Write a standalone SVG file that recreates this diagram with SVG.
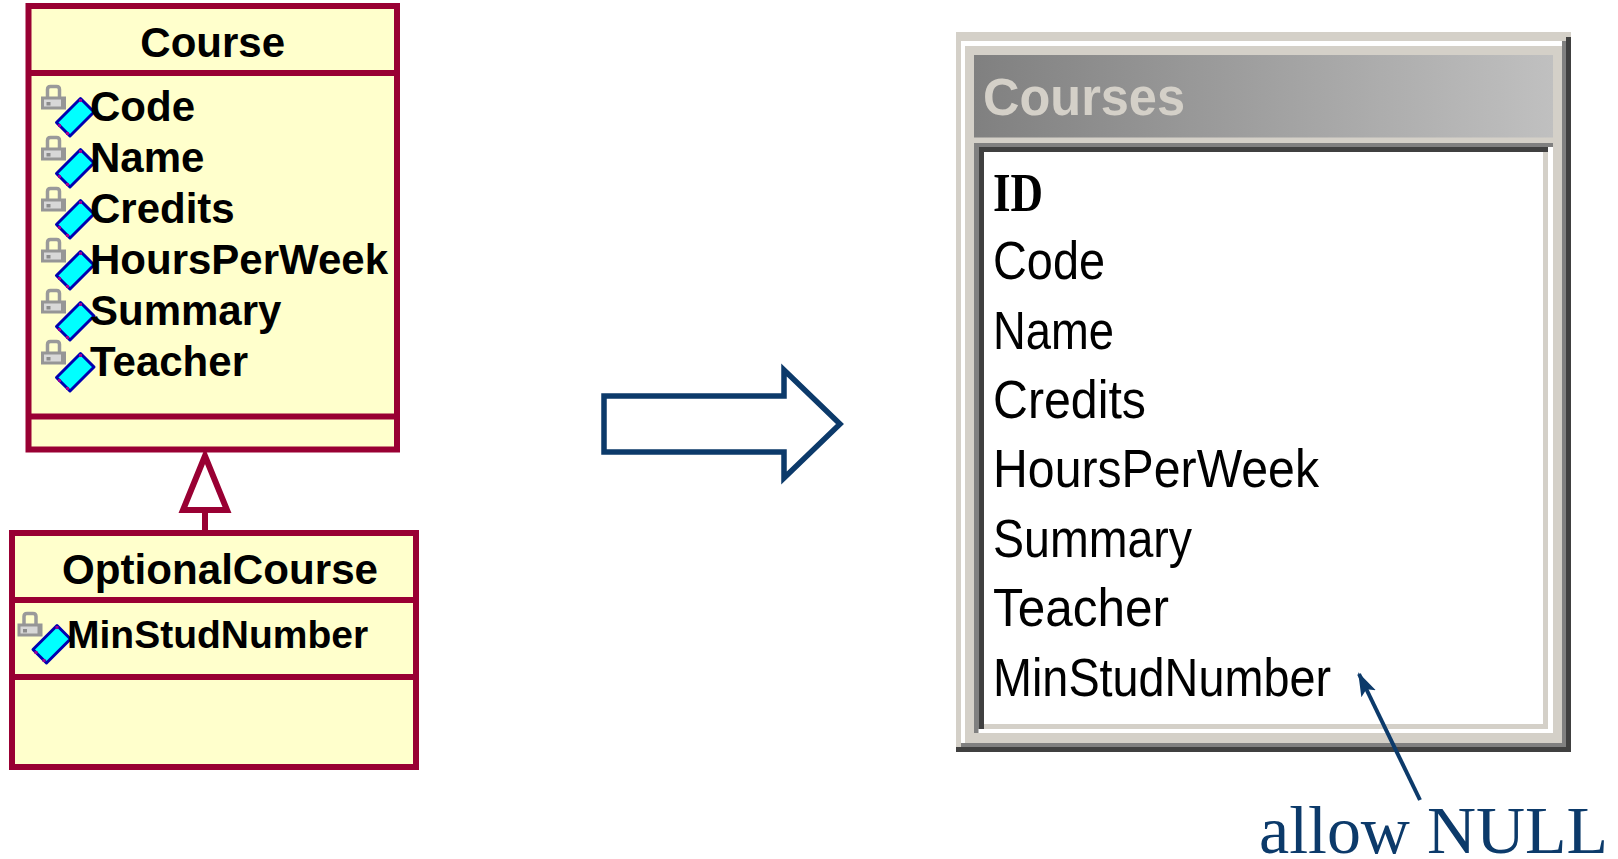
<svg xmlns="http://www.w3.org/2000/svg" width="1618" height="859" viewBox="0 0 1618 859">
<style>
.cls{fill:#FFFFCC;stroke:#990033;stroke-width:6}
.sep{stroke:#990033;stroke-width:6}
.ttl{font-family:"Liberation Sans",Arial,sans-serif;font-weight:bold;font-size:42px;fill:#000}
.att{font-family:"Liberation Sans",Arial,sans-serif;font-weight:bold;font-size:42px;fill:#000}
.col{font-family:"Liberation Sans",Arial,sans-serif;font-size:53px;fill:#000}
.lg{fill:#D4D0C8}.wh{fill:#FFFFFF}.mg{fill:#808080}.dg{fill:#404040}
</style>
<defs>
<linearGradient id="tbar" x1="0" y1="0" x2="1" y2="0">
<stop offset="0" stop-color="#808080"/>
<stop offset="1" stop-color="#C0C0C0"/>
</linearGradient>
<g id="icon">
<path d="M9.5,13 V5.5 Q9.5,2.5 12.5,2.5 H18.5 Q21.5,2.5 21.5,5.5 V13" fill="none" stroke="#9A9A9A" stroke-width="3.5"/>
<rect x="3" y="12.5" width="25" height="13" fill="#969696"/>
<rect x="6" y="15.5" width="17" height="7" fill="#D8D8D8"/>
<rect x="8.5" y="18" width="4" height="3.5" fill="#8C8C8C"/>
<polygon points="18.5,38.5 42.5,14.5 56,28 32,52" fill="#00FFFF" stroke="#0000B0" stroke-width="3" stroke-linejoin="round"/>
<rect x="20" y="40" width="3" height="3" fill="#990099"/>
<rect x="28" y="48" width="3" height="3" fill="#990099"/>
<rect x="41" y="15" width="3" height="3" fill="#990099"/>
</g>
<marker id="ah" viewBox="0 0 24 18" refX="22" refY="9" markerWidth="24" markerHeight="18" markerUnits="userSpaceOnUse" orient="auto">
<path d="M0,1 L24,9 L0,17 L5,9 Z" fill="#0C3A6A"/>
</marker>
</defs>

<g id="node-course">
<rect class="cls" x="28.5" y="6" width="368.5" height="443.5"/>
<line class="sep" x1="28.5" y1="73" x2="397" y2="73"/>
<line class="sep" x1="28.5" y1="416.5" x2="397" y2="416.5"/>
<text class="ttl" x="212.7" y="57" text-anchor="middle">Course</text>
<use href="#icon" x="38" y="84"/>
<text class="att" x="90" y="121">Code</text>
<use href="#icon" x="38" y="135"/>
<text class="att" x="90" y="172">Name</text>
<use href="#icon" x="38" y="186"/>
<text class="att" x="90" y="223">Credits</text>
<use href="#icon" x="38" y="237"/>
<text class="att" x="90" y="274">HoursPerWeek</text>
<use href="#icon" x="38" y="288"/>
<text class="att" x="90" y="325">Summary</text>
<use href="#icon" x="38" y="339"/>
<text class="att" x="90" y="376">Teacher</text>
</g>

<g id="node-optionalcourse">
<rect class="cls" x="12" y="533" width="404" height="234"/>
<line class="sep" x1="12" y1="600" x2="416" y2="600"/>
<line class="sep" x1="12" y1="677" x2="416" y2="677"/>
<text class="ttl" x="62" y="583.5" textLength="316" lengthAdjust="spacingAndGlyphs">OptionalCourse</text>
<use href="#icon" x="14.5" y="611"/>
<text class="att" x="67" y="648" style="font-size:39px">MinStudNumber</text>
</g>

<g id="node-courses-table">
<rect class="lg" x="956" y="32" width="615" height="720"/>
<rect class="wh" x="961" y="41" width="601" height="5"/>
<rect class="wh" x="961" y="41" width="4" height="706"/>
<rect class="mg" x="1562" y="41" width="4" height="706"/>
<rect class="mg" x="961" y="743" width="605" height="4"/>
<rect class="dg" x="1566" y="37" width="5" height="715"/>
<rect class="dg" x="956" y="747" width="615" height="5"/>
<rect x="974" y="55" width="579" height="82.5" fill="url(#tbar)"/>
<text x="983" y="115" textLength="202" lengthAdjust="spacingAndGlyphs" style="font-family:'Liberation Sans',Arial,sans-serif;font-weight:bold;font-size:51px;fill:#D4D0C8">Courses</text>
<rect class="mg" x="974" y="143" width="579" height="590"/>
<rect class="wh" x="978.5" y="147" width="574.5" height="586"/>
<rect class="dg" x="978.5" y="147" width="569.5" height="582"/>
<rect class="lg" x="984" y="152" width="564" height="577"/>
<rect class="wh" x="984" y="152" width="559" height="572"/>
<text x="993" y="211" textLength="50" lengthAdjust="spacingAndGlyphs" style="font-family:'Liberation Serif','Times New Roman',serif;font-weight:bold;font-size:55px;fill:#000">ID</text>
<text class="col" x="993" y="279" textLength="112" lengthAdjust="spacingAndGlyphs">Code</text>
<text class="col" x="993" y="348.5" textLength="121" lengthAdjust="spacingAndGlyphs">Name</text>
<text class="col" x="993" y="418" textLength="153" lengthAdjust="spacingAndGlyphs">Credits</text>
<text class="col" x="993" y="487" textLength="326" lengthAdjust="spacingAndGlyphs">HoursPerWeek</text>
<text class="col" x="993" y="556.5" textLength="199" lengthAdjust="spacingAndGlyphs">Summary</text>
<text class="col" x="993" y="626" textLength="176" lengthAdjust="spacingAndGlyphs">Teacher</text>
<text class="col" x="993" y="695.5" textLength="338" lengthAdjust="spacingAndGlyphs">MinStudNumber</text>
</g>

<g id="label-allow-null">
<text x="1259" y="853" textLength="349" lengthAdjust="spacingAndGlyphs" style="font-family:'Liberation Serif','Times New Roman',serif;font-size:68px;fill:#0C3A6A">allow NULL</text>
</g>

<g id="connectors">
<line x1="205" y1="510" x2="205" y2="531" stroke="#990033" stroke-width="6"/>
<polygon points="205,456 183,510 227,510" fill="#FFFFFF" stroke="#990033" stroke-width="6" stroke-linejoin="miter"/>
<path d="M604,396 H784 V370 L840,424 L784,478 V452 H604 Z" fill="#FFFFFF" stroke="#0C3A6A" stroke-width="5.5" stroke-miterlimit="10"/>
<line x1="1420" y1="800" x2="1359" y2="674" stroke="#0C3A6A" stroke-width="4" marker-end="url(#ah)"/>
</g>
</svg>
